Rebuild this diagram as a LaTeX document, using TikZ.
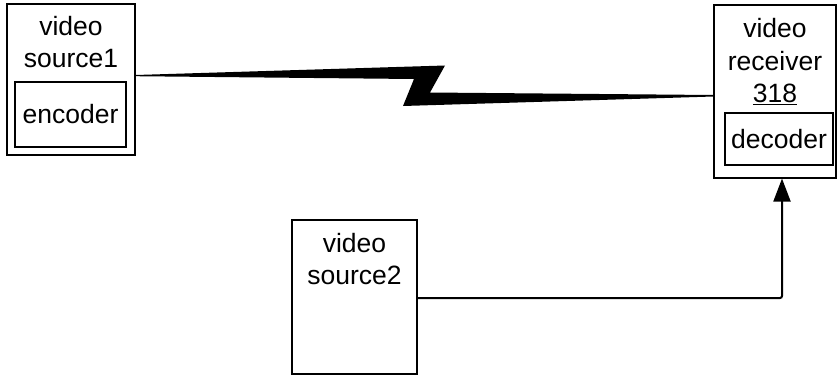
\documentclass[tikz,border=0pt]{standalone}
\usepackage{fontspec}
\setmainfont{Liberation Sans}
\usetikzlibrary{positioning,arrows.meta,calc}

\begin{document}
\begin{tikzpicture}[x=1pt, y=-1pt, >={Triangle[width=17pt,length=23pt]},
  every node/.style={font=\fontsize{26.5}{32.5}\selectfont}]
\tikzstyle{unit}=[rectangle, draw, line width=1.1pt, inner sep=0pt]
\tikzstyle{lbl}=[align=center, inner sep=0pt]
\useasboundingbox (0,0) rectangle (839,376);

% Boxes
\node[unit, minimum width=128pt, minimum height=151pt] (src1) at (71,79.5) {};
\node[unit, minimum width=111pt, minimum height=65pt] (enc) at (70.5,114.5) {encoder};
\node[lbl] (src1txt) at (71,42) {video\\source1};

\node[unit, minimum width=122pt, minimum height=173pt] (recv) at (775,91.5) {};
\node[unit, minimum width=108pt, minimum height=52pt] (dec) at (779,139) {decoder};
\node[lbl] (recvtxt) at (775,62) {video\\receiver\\\underline{318}};

\node[unit, minimum width=125pt, minimum height=154pt] (src2) at (354.5,297) {};
\node[lbl] (src2txt) at (354.5,259) {video\\source2};

% Wireless link
\fill (src1.east |- 0,75) -- (445,65.5) -- (430,92.5) -- (recv.west |- 0,95)
  -- (recv.west |- 0,96.5) -- (403,106) -- (414,79) -- (src1.east |- 0,76.2) -- cycle;

% Wired link
\draw[->, line width=2pt, rounded corners=2pt] (src2.east |- 0,298) -| ([xshift=7pt]recv.south);
\end{tikzpicture}
\end{document}
